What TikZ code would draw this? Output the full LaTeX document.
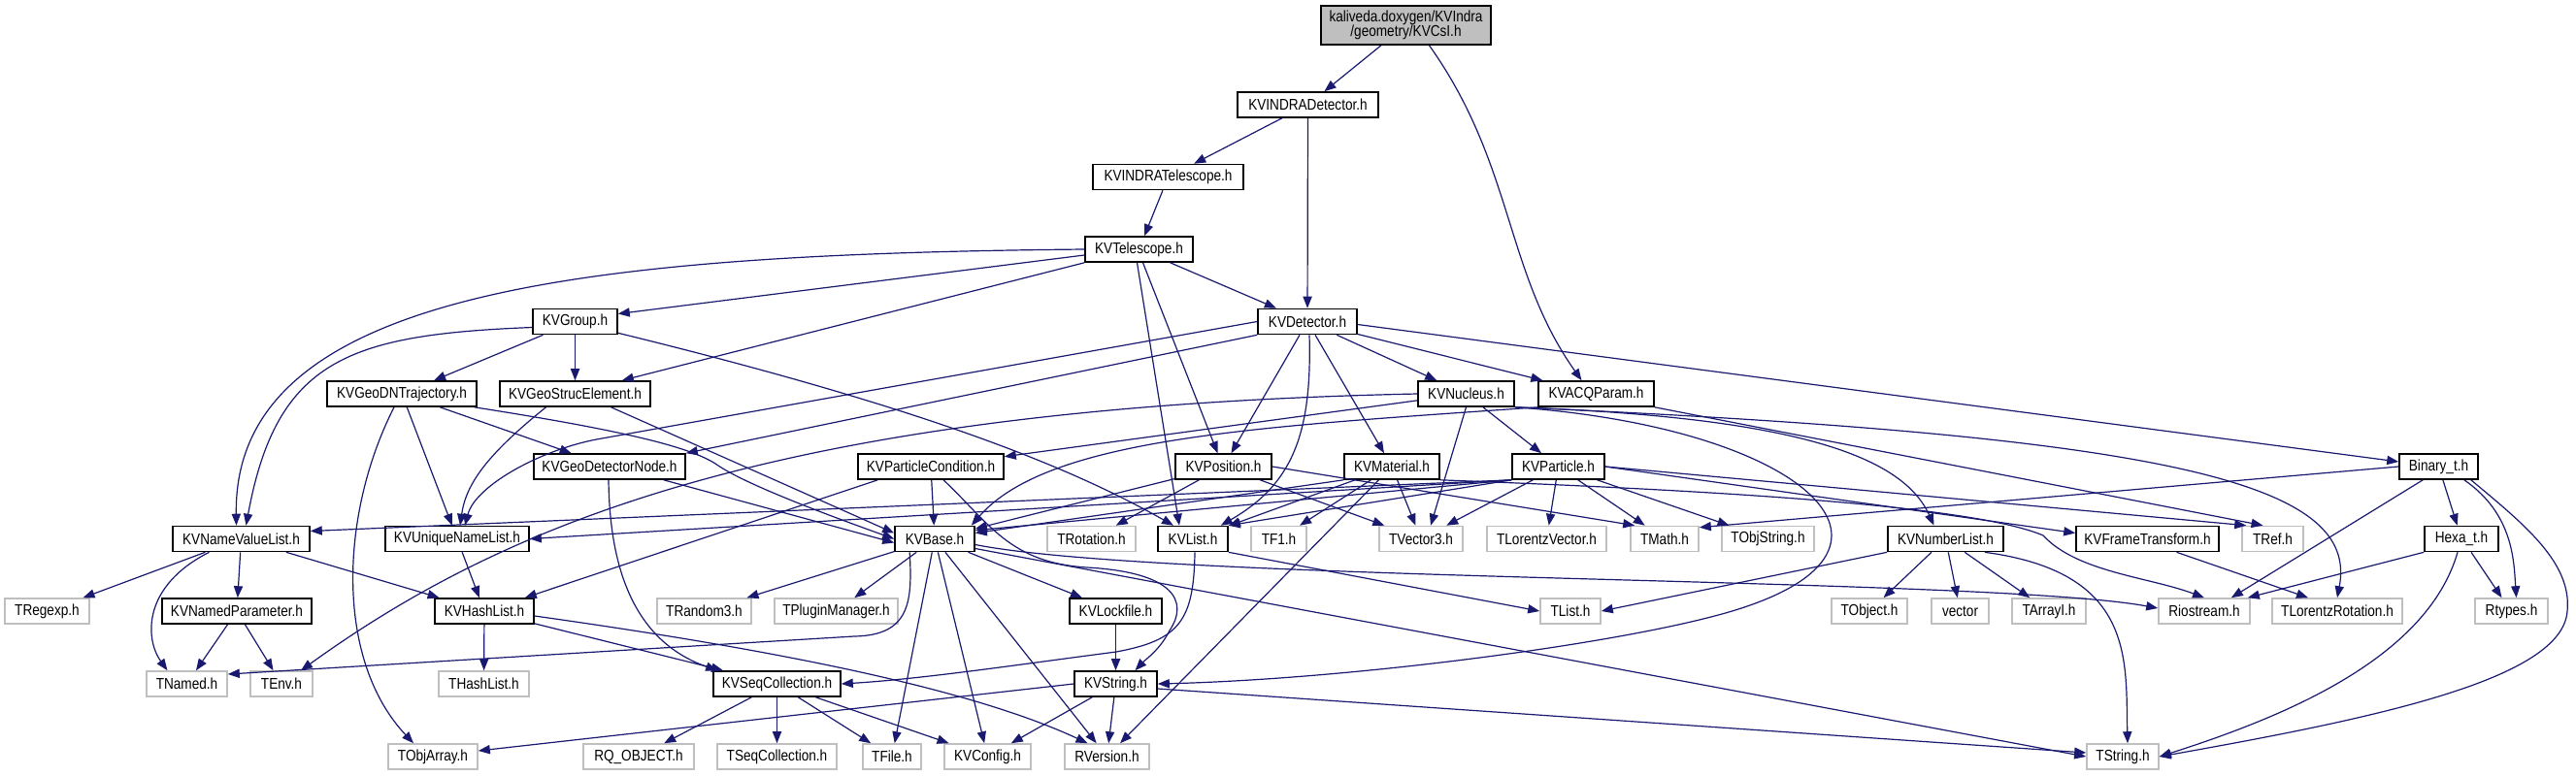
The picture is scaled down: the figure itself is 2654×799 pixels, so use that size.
\documentclass[tikz,border=0pt]{standalone}
\usepackage{fontspec}
\newfontfamily\nf[FakeStretch=0.85]{Liberation Sans}
\usetikzlibrary{arrows.meta,calc}
\definecolor{edgeblue}{RGB}{25,25,112}
\definecolor{boxgray}{RGB}{191,191,191}
\tikzset{
 box/.style={draw=black, line width=0.8pt, fill=white, rectangle, inner sep=0pt, minimum height=13pt, font=\nf\fontsize{8}{8}\selectfont},
 ext/.style={box, draw=boxgray},
 bw/.style={minimum width=#1*0.5pt},
 e/.style={draw=edgeblue, line width=0.6pt, -{Triangle[length=6pt,width=4.6pt]}},
}
\begin{document}
\begin{tikzpicture}[x=0.5pt,y=-0.5pt]
\useasboundingbox[fill=white] (0,0) rectangle (2654,799);
% row 0-4
\node[box,bw=175,minimum height=20pt,fill=boxgray,align=center,font=\nf\fontsize{8}{7.6}\selectfont] (csi) at (1448.5,26) {kaliveda.doxygen/KVIndra\\/geometry/KVCsI.h};
\node[box,bw=145] (indet) at (1347.5,108) {KVINDRADetector.h};
\node[box,bw=155] (intel) at (1203.5,182.5) {KVINDRATelescope.h};
\node[box,bw=111] (tel) at (1173.5,257) {KVTelescope.h};
\node[box,bw=87] (grp) at (592.5,331.5) {KVGroup.h};
\node[box,bw=102] (det) at (1347,331.5) {KVDetector.h};
% row 5
\node[box,bw=154] (gdn) at (414,406) {KVGeoDNTrajectory.h};
\node[box,bw=155] (gse) at (592.5,406) {KVGeoStrucElement.h};
\node[box,bw=99] (nuc) at (1510.5,406) {KVNucleus.h};
\node[box,bw=119] (acq) at (1644.5,406) {KVACQParam.h};
% row 6
\node[box,bw=156] (gdnode) at (628,481) {KVGeoDetectorNode.h};
\node[box,bw=150] (pcond) at (959,481) {KVParticleCondition.h};
\node[box,bw=99] (pos) at (1260.5,481) {KVPosition.h};
\node[box,bw=98] (mat) at (1434,481) {KVMaterial.h};
\node[box,bw=95] (part) at (1605.5,481) {KVParticle.h};
\node[box,bw=81] (bin) at (2512.5,481) {Binary\_t.h};
% row 7
\node[box,bw=141] (nvl) at (248.5,555.5) {KVNameValueList.h};
\node[box,bw=148] (unl) at (471,555.5) {KVUniqueNameList.h};
\node[box,bw=82] (base) at (963,555.5) {KVBase.h};
\node[ext,bw=91] (trot) at (1124.5,555.5) {TRotation.h};
\node[box,bw=72] (list) at (1229,555.5) {KVList.h};
\node[ext,bw=57] (tf1) at (1317.5,555.5) {TF1.h};
\node[ext,bw=86] (tvec) at (1464,555.5) {TVector3.h};
\node[ext,bw=123] (tlv) at (1593.5,555.5) {TLorentzVector.h};
\node[ext,bw=70] (tmath) at (1715,555.5) {TMath.h};
\node[ext,bw=95] (tobjs) at (1821.5,555.5) {TObjString.h};
\node[box,bw=119] (numl) at (2004.5,555.5) {KVNumberList.h};
\node[box,bw=147] (ftr) at (2212.5,555.5) {KVFrameTransform.h};
\node[ext,bw=63] (tref) at (2341.5,555.5) {TRef.h};
\node[box,bw=76] (hexa) at (2536,555.5) {Hexa\_t.h};
% row 8
\node[ext,bw=87] (tregexp) at (48.5,630) {TRegexp.h};
\node[box,bw=154] (nparam) at (244,630) {KVNamedParameter.h};
\node[box,bw=102] (hashl) at (499,630) {KVHashList.h};
\node[ext,bw=97] (trand) at (725.5,630) {TRandom3.h};
\node[ext,bw=127] (tplug) at (861.5,630) {TPluginManager.h};
\node[box,bw=95] (lock) at (1149.5,630) {KVLockfile.h};
\node[ext,bw=62] (tlist) at (1618,630) {TList.h};
\node[ext,bw=78] (tobj) at (1926,630) {TObject.h};
\node[ext,bw=59] (vec) at (2019.5,630) {vector};
\node[ext,bw=76] (tarr) at (2111,630) {TArrayI.h};
\node[ext,bw=94] (rio) at (2271,630) {Riostream.h};
\node[ext,bw=134] (tlrot) at (2408,630) {TLorentzRotation.h};
\node[ext,bw=75] (rtypes) at (2587.5,630) {Rtypes.h};
% row 9
\node[ext,bw=83] (tnamed) at (192.5,705) {TNamed.h};
\node[ext,bw=64] (tenv) at (290,705) {TEnv.h};
\node[ext,bw=93] (thash) at (498.5,705) {THashList.h};
\node[box,bw=131] (seqc) at (800.5,705) {KVSeqCollection.h};
\node[box,bw=85] (kvstr) at (1149.5,705) {KVString.h};
% row 10
\node[ext,bw=92] (tobja) at (446,780) {TObjArray.h};
\node[ext,bw=114] (rq) at (658,780) {RQ\_OBJECT.h};
\node[ext,bw=123] (tseq) at (800.5,780) {TSeqCollection.h};
\node[ext,bw=60] (tfile) at (919,780) {TFile.h};
\node[ext,bw=89] (kvconf) at (1017.5,780) {KVConfig.h};
\node[ext,bw=87] (rver) at (1140.5,780) {RVersion.h};
\node[ext,bw=74] (tstr) at (2187,780) {TString.h};

% ---- edges ----
\draw[e] (csi) -- (indet);
\draw[e] ($(csi.south)+(24,0)$) .. controls (1560,170) and (1550,280) .. ($(acq.north)+(-15,0)$);
\draw[e] (indet) -- (intel);
\draw[e] (indet) -- (det);
\draw[e] (intel) -- (tel);
% KVTelescope
\draw[e] (tel.west) .. controls (600,262) and (240,300) .. ($(nvl.north)+(-5,0)$);
\draw[e] ($(tel.west)+(0,6)$) -- ($(grp.east)+(0,-8)$);
\draw[e] (tel.south west) -- ($(gse.north east)+(-30,0)$);
\draw[e] (tel) -- (det);
\draw[e] ($(tel.south)+(-2,0)$) -- ($(list.north)+(-14,0)$);
\draw[e] ($(tel.south)+(4,0)$) -- ($(pos.north)+(-6,0)$);
% KVGroup
\draw[e] ($(grp.west)+(0,6)$) .. controls (360,345) and (285,370) .. ($(nvl.north)+(5,0)$);
\draw[e] (grp) -- (gdn);
\draw[e] (grp) -- (gse);
\draw[e] ($(grp.south east)+(0,-2)$) .. controls (950,420) and (1100,480) .. ($(list.north)+(-20,0)$);
% KVDetector
\draw[e] (det.west) -- (620,452) .. controls (560,462) and (490,500) .. ($(unl.north)+(8,0)$);
\draw[e] (det.south west) -- (gdnode.north east);
\draw[e] (det) -- (pos);
\draw[e] ($(det.south)+(2,0)$) .. controls (1352,450) and (1330,500) .. ($(list.north east)+(-8,0)$);
\draw[e] (det) -- (mat);
\draw[e] (det) -- (nuc);
\draw[e] (det) -- (acq);
\draw[e] ($(det.east)+(0,3)$) -- ($(bin.west)+(0,-5)$);
% KVGeoDNTrajectory
\draw[e] (gdn) -- (gdnode);
\draw[e] (gdn) -- (unl);
\draw[e] ($(gdn.south)+(-8,0)$) .. controls (350,530) and (345,680) .. ($(tobja.north)+(-20,0)$);
\draw[e] ($(gdn.south east)+(-3,0)$) .. controls (650,445) and (715,462) .. (740,480) .. controls (770,500) and (850,530) .. (base.west);
% KVGeoStrucElement
\draw[e] ($(gse.south)+(-30,0)$) .. controls (500,470) and (480,500) .. ($(unl.north)+(3,0)$);
\draw[e] ($(gse.south)+(37,0)$) -- ($(base.west)+(0,-6)$);
% KVGeoDetectorNode
\draw[e] ($(gdnode.south)+(-1,0)$) .. controls (628,580) and (650,660) .. ($(seqc.north west)+(5,0)$);
\draw[e] ($(gdnode.south east)+(-23,0)$) -- ($(base.west)+(0,4)$);
% KVNucleus
\draw[e] (nuc) -- (pcond);
\draw[e] (nuc.west) .. controls (800,420) and (520,540) .. ($(tenv.north)+(20,0)$);
\draw[e] (nuc) -- (part);
\draw[e] (nuc.south) -- ($(tvec.north)+(10,0)$);
\draw[e] (nuc.south east) .. controls (1850,430) and (1960,470) .. ($(numl.north)+(-12,0)$);
\draw[e] (nuc.south east) .. controls (1850,440) and (1990,560) .. (1800,625) .. controls (1700,660) and (1400,700) .. (kvstr.east);
\draw[e] (nuc.south east) .. controls (2250,450) and (2430,500) .. (tlrot.north);
% KVACQParam
\draw[e] (acq.south west) .. controls (1300,440) and (1080,450) .. ($(base.north east)+(-4,0)$);
\draw[e] (acq.south east) -- ($(tref.north)+(-10,0)$);
% KVParticleCondition
\draw[e] (pcond) -- (base);
\draw[e] ($(pcond.south west)+(21,0)$) -- ($(hashl.north east)+(-10,0)$);
\draw[e] ($(pcond.south)+(13,0)$) .. controls (1020,540) and (1040,580) .. (1120,585) .. controls (1210,590) and (1225,620) .. (1205,650) .. controls (1195,670) and (1180,680) .. ($(kvstr.north)+(20,0)$);
% KVPosition
\draw[e] (pos) -- (trot);
\draw[e] (pos) -- (base);
\draw[e] (pos) -- (tvec);
\draw[e] (pos.east) -- ($(tmath.north west)+(5,0)$);
% KVMaterial
\draw[e] (mat.south west) -- ($(base.east)+(0,-6)$);
\draw[e] (mat) -- (list);
\draw[e] (mat) -- (tf1);
\draw[e] (mat) -- (tvec);
\draw[e] (mat) -- (rver);
\draw[e] (mat.south east) .. controls (1750,505) and (2030,520) .. (2105,552) .. controls (2140,590) and (2215,595) .. (rio.north);
% KVParticle
\draw[e] (part.south west) -- ($(base.north east)+(0,5)$);
\draw[e] (part.south west) -- (list.north east);
\draw[e] (part.south west) -- ($(nvl.east)+(0,-8)$);
\draw[e] (part.south west) -- (unl.east);
\draw[e] (part) -- (tvec);
\draw[e] (part) -- (tlv);
\draw[e] (part) -- (tmath);
\draw[e] (part) -- (tobjs);
\draw[e] (part.east) -- ($(ftr.west)+(0,-6)$);
\draw[e] (part.east) -- ($(tref.north west)+(5,0)$);
% Binary_t
\draw[e] (bin.west) -- ($(tmath.north east)+(0,2)$);
\draw[e] (bin) -- (hexa);
\draw[e] ($(bin.south west)+(25,0)$) -- ($(rio.north east)+(-20,0)$);
\draw[e] ($(bin.south east)+(-15,0)$) .. controls (2590,530) and (2590,580) .. ($(rtypes.north)+(5,0)$);
\draw[e] ($(bin.south east)+(-8,0)$) .. controls (2600,540) and (2650,580) .. (2645,630) .. controls (2640,700) and (2450,740) .. (tstr.east);
% Hexa_t
\draw[e] (hexa.south west) -- ($(rio.north east)+(-3,0)$);
\draw[e] ($(hexa.south)+(10,0)$) -- ($(rtypes.north)+(-10,0)$);
\draw[e] ($(hexa.south)+(-4,0)$) .. controls (2500,680) and (2350,740) .. (tstr.east);
% KVNumberList
\draw[e] (numl) -- (tobj);
\draw[e] (numl) -- (vec);
\draw[e] (numl) -- (tarr);
\draw[e] ($(numl.south east)+(-20,0)$) .. controls (2200,590) and (2190,680) .. ($(tstr.north)+(5,0)$);
\draw[e] (numl.south west) -- (tlist.east);
% KVFrameTransform
\draw[e] ($(ftr.south)+(30,0)$) -- ($(tlrot.north)+(-30,0)$);
% KVBase
\draw[e] ($(base.south west)+(16,0)$) .. controls (940,620) and (938,655) .. (880,656) -- ($(tnamed.east)+(0,-10)$);
\draw[e] (base) -- (trand);
\draw[e] (base) -- (tplug);
\draw[e] (base) -- (lock);
\draw[e] (base) -- (tfile);
\draw[e] (base) -- (kvconf);
\draw[e] (base) -- (rver);
\draw[e] ($(base.east)+(0,6)$) .. controls (1200,600) and (2050,595) .. ($(rio.west)+(0,-3)$);
\draw[e] ($(base.east)+(0,10)$) -- (tstr.west);
% KVList
\draw[e] (list.south east) -- (tlist.west);
\draw[e] ($(list.south)+(2,0)$) .. controls (1230,640) and (1215,660) .. (1150,672) .. controls (1050,685) and (950,700) .. (seqc.east);
% KVLockfile, KVString
\draw[e] (lock) -- (kvstr);
\draw[e] (kvstr.west) -- ($(tobja.east)+(0,-6)$);
\draw[e] (kvstr) -- (kvconf);
\draw[e] (kvstr) -- (rver);
\draw[e] ($(kvstr.east)+(0,5)$) -- ($(tstr.west)+(0,-4)$);
% KVSeqCollection
\draw[e] (seqc) -- (rq);
\draw[e] (seqc) -- (tseq);
\draw[e] (seqc) -- (tfile);
\draw[e] (seqc) -- (kvconf);
% KVHashList
\draw[e] (hashl) -- (thash);
\draw[e] (hashl) -- (seqc);
\draw[e] ($(hashl.east)+(0,5)$) .. controls (800,670) and (1000,710) .. ($(rver.north)+(-20,0)$);
% KVNameValueList, KVUniqueNameList, KVNamedParameter
\draw[e] (nvl) -- (tregexp);
\draw[e] (nvl) -- (nparam);
\draw[e] ($(nvl.south)+(-33,0)$) .. controls (145,605) and (150,660) .. ($(tnamed.north)+(-20,0)$);
\draw[e] (nvl) -- (hashl);
\draw[e] (unl) -- (hashl);
\draw[e] (nparam) -- (tnamed);
\draw[e] (nparam) -- (tenv);
\end{tikzpicture}
\end{document}
